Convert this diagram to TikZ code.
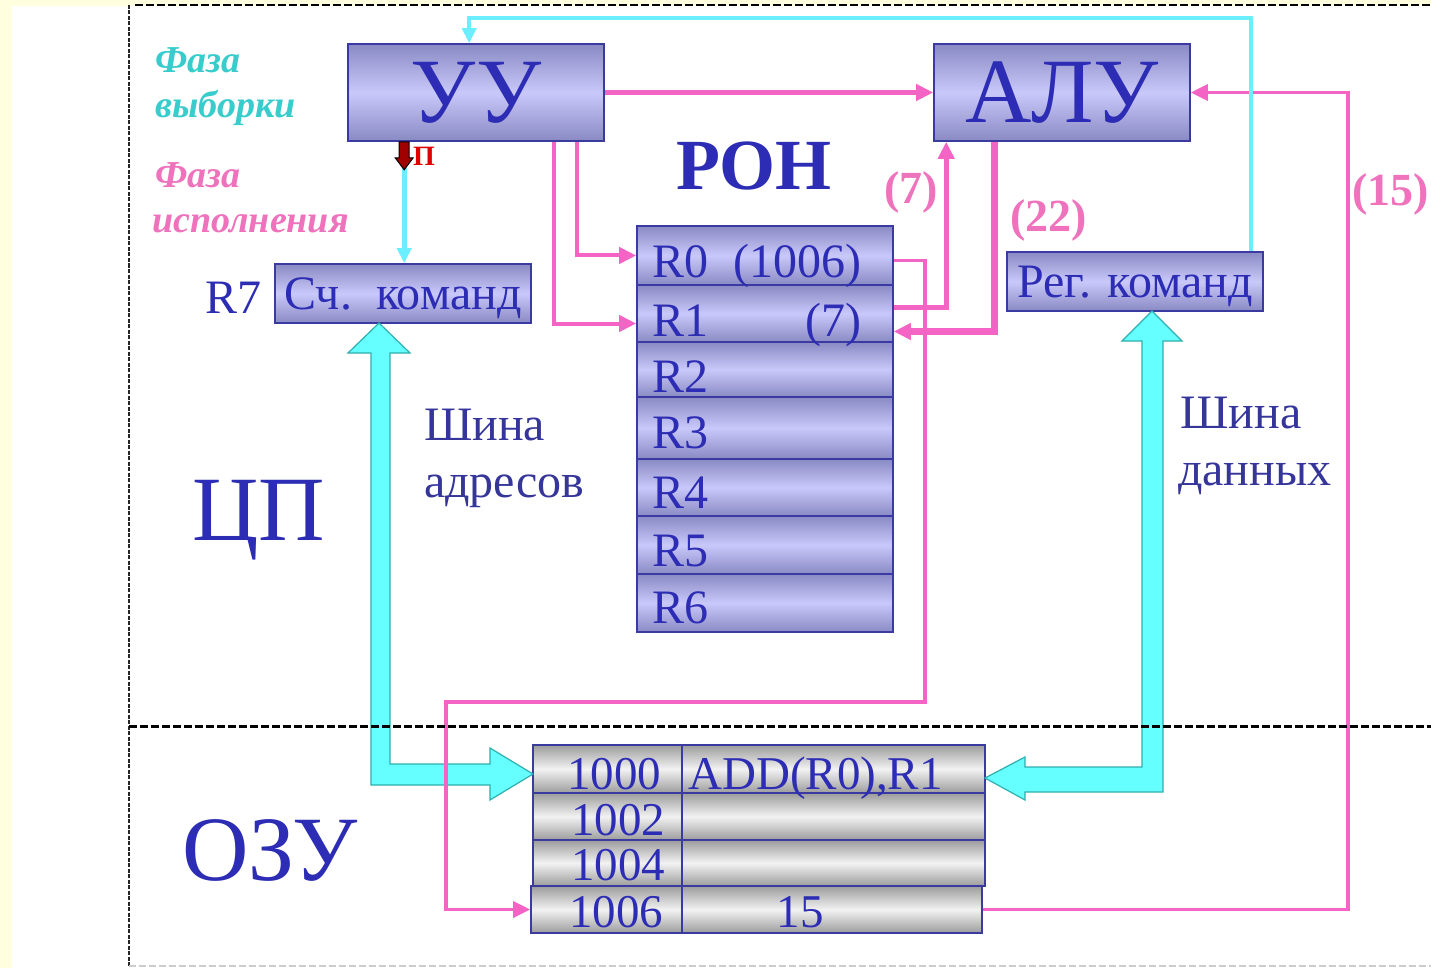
\documentclass[tikz,border=0pt]{standalone}
\usepackage{fontspec}
\setmainfont{Liberation Serif}
\usetikzlibrary{calc,arrows.meta}
\definecolor{bgy}{HTML}{FFFFE0}
\definecolor{boxedge}{HTML}{8A8AC4}
\definecolor{boxmid}{HTML}{C8C8FA}
\definecolor{boxline}{HTML}{3A3AA0}
\definecolor{txtblue}{HTML}{2C2CB4}
\definecolor{busnavy}{HTML}{35359A}
\definecolor{grayedge}{HTML}{9C9C9C}
\definecolor{graymid}{HTML}{F2F2F2}
\definecolor{pinkline}{HTML}{F364C4}
\definecolor{pinktext}{HTML}{EE72BC}
\definecolor{cyanline}{HTML}{6BEFFF}
\definecolor{cyantext}{HTML}{38CCCC}
\definecolor{busfill}{HTML}{66FFFF}
\definecolor{busedge}{HTML}{2FAFAF}
\definecolor{darkred}{HTML}{A00000}
\definecolor{pulsered}{HTML}{E00000}
\newcommand{\myfs}[1]{\fontsize{#1}{#1}\selectfont}
\begin{document}
\begin{tikzpicture}[x=1pt,y=-1pt,
  box/.style={draw=boxline,line width=1.6pt,top color=boxedge,bottom color=boxedge,middle color=boxmid,inner sep=0pt,text=txtblue,text depth=0pt},
  memrow/.style={draw=boxline,line width=1.6pt,top color=grayedge,bottom color=grayedge,middle color=graymid,inner sep=0pt},
  lbl/.style={inner sep=0pt,anchor=base west,text=txtblue},
  lble/.style={inner sep=0pt,anchor=base east,text=txtblue},
  lblc/.style={inner sep=0pt,anchor=base,text=txtblue},
  pk/.style={draw=pinkline,line width=5pt,-{Triangle[length=17pt,width=16pt]}},
  cy/.style={draw=cyanline,line width=4pt,-{Triangle[length=15pt,width=14pt]}},
  bus/.style={fill=busfill,draw=busedge,line width=1.2pt},
  num/.style={inner sep=0pt,anchor=base west,text=pinktext,font=\bfseries\myfs{46}},
  dashframe/.style={black,line width=2.8pt,dash pattern=on 8pt off 3pt}
]
\useasboundingbox (0,0) rectangle (1431,968);
\fill[bgy] (0,0) rectangle (1431,968);
\fill[white] (12,6) rectangle (1431,968);

% boxes
\node[box,minimum width=256pt,minimum height=97pt,font=\myfs{92}] (uu) at (476,92.5) {УУ};
\node[box,minimum width=256pt,minimum height=97pt,font=\myfs{92}] (alu) at (1062,92.5) {АЛУ};
\node[box,minimum width=256pt,minimum height=59pt,font=\myfs{48}] (sch) at (403,293.5) {Сч.\ \ команд};
\node[box,minimum width=256pt,minimum height=59pt,font=\myfs{48}] (reg) at (1135,281.5) {Рег. команд};

% registers
\foreach \n/\c/\h in {0/255.5/59,1/313.5/57,2/369.5/55,3/428/62,4/487.5/57,5/545/58,6/603/58}
  \node[box,minimum width=256pt,minimum height=\h pt] (r\n) at (765,\c) {};
\foreach \n/\b in {0/277,1/336,2/392,3/448,4/508,5/566,6/623}
  \node[lbl,font=\myfs{48}] (rl\n) at (652,\b) {R\n};
\node[lble,font=\myfs{48}] (r0v) at (862,277) {(1006)};
\node[lble,font=\myfs{48}] (r1v) at (862,336) {(7)};

% memory
\node[memrow,minimum width=452pt,minimum height=48pt] (m0) at (759,769) {};
\node[memrow,minimum width=452pt,minimum height=47pt] (m1) at (759,816.5) {};
\node[memrow,minimum width=452pt,minimum height=46pt] (m2) at (759,863) {};
\node[memrow,minimum width=451pt,minimum height=47pt] (m3) at (756.5,909.5) {};
\foreach \m/\dx in {m0/150,m1/150,m2/150,m3/152}
  \draw[boxline,line width=1.6pt] ($(\m.north west)+(\dx,0)$) -- ($(\m.south west)+(\dx,0)$);
\node[lblc,font=\myfs{47}] (a0) at (614,789) {1000};
\node[lblc,font=\myfs{47}] (a1) at (618,835) {1002};
\node[lblc,font=\myfs{47}] (a2) at (618,880) {1004};
\node[lblc,font=\myfs{47}] (a3) at (616,927) {1006};
\node[lbl,font=\myfs{47}] (v0) at (688,789) {ADD(R0),R1};
\node[lblc,font=\myfs{47}] (v3) at (800,927) {15};

% labels
\node[lbl,font=\myfs{92}] (cp) at (192,540) {ЦП};
\node[lbl,font=\myfs{92}] (ozu) at (182,880) {ОЗУ};
\node[lbl,text=busnavy,font=\myfs{48}] (sa1) at (424,440) {Шина};
\node[lbl,text=busnavy,font=\myfs{48}] (sa2) at (424,497) {адресов};
\node[lbl,text=busnavy,font=\myfs{48}] (sd1) at (1180,428) {Шина};
\node[lbl,text=busnavy,font=\myfs{48}] (sd2) at (1178,485) {данных};
\node[lbl,font=\bfseries\myfs{72}] (ron) at (676,190) {РОН};
\node[lbl,font=\myfs{48}] (r7) at (205,313) {R7};
\node[num] (n7) at (884,204) {(7)};
\node[num] (n22) at (1010,232) {(22)};
\node[num] (n15) at (1352,206) {(15)};
\node[lbl,text=cyantext,font=\bfseries\itshape\myfs{38}] (f1) at (155,73) {Фаза};
\node[lbl,text=cyantext,font=\bfseries\itshape\myfs{38}] (f2) at (155,118) {выборки};
\node[lbl,text=pinktext,font=\bfseries\itshape\myfs{38}] (f3) at (155,188) {Фаза};
\node[lbl,text=pinktext,font=\bfseries\itshape\myfs{38}] (f4) at (152,233) {исполнения};

% buses
\draw[bus] (371,353) -- (348,353) -- (379,323) -- (410,353) -- (390,353) -- (390,764) -- (490,764) -- (490,748) -- (533,774) -- (490,800) -- (490,785) -- (371,785) -- cycle;
\draw[bus] (1142,341) -- (1122,341) -- (1152,311) -- (1182,341) -- (1163,341) -- (1163,792) -- (1025,792) -- (1025,800) -- (985,778) -- (1025,757) -- (1025,767) -- (1142,767) -- cycle;

% pink connectors
\draw[pk] (uu.east) -- (alu.west);
\draw[pk,line width=4pt] ($(uu.south west)+(230,0)$) |- (r0.west);
\draw[pk,line width=4pt] ($(uu.south west)+(207,0)$) |- ($(r1.west)+(0,10)$);
\coordinate (b1) at (925,702);
\coordinate (b2) at (446,702);
\draw[pk,line width=3.5pt] ($(r0.east)+(0,5)$) -| (b1) -- (b2) |- (m3.west);
\draw[pk] ($(r1.east)+(0,-6)$) -| ($(alu.south west)+(13,0)$);
\draw[pk,line width=7pt] ($(alu.south west)+(61,0)$) |- ($(r1.east)+(0,18)$);
\coordinate (c1) at (1348,500);
\draw[pk,line width=3.5pt] (m3.east) -| (c1) |- (alu.east);

% cyan connectors
\draw[cy] ($(reg.north east)+(-13,0)$) |- ($(uu.north west)+(122,-25)$) -- ($(uu.north west)+(122,0)$);
\coordinate (p0) at ($(uu.south west)+(57,0)$);
\draw[cy,line width=5pt] ($(p0)+(0,26)$) -- ($(sch.north west)+(130,0)$);
\draw[fill=darkred,draw=black,line width=1pt] ($(p0)+(-5,0)$) -- ($(p0)+(5,0)$) -- ($(p0)+(5,16)$) -- ($(p0)+(9,16)$) -- ($(p0)+(0,28)$) -- ($(p0)+(-9,16)$) -- ($(p0)+(-5,16)$) -- cycle;
\node[lbl,text=pulsered,font=\bfseries\myfs{28}] (pls) at (413,166) {П};

% frame lines
\draw[dashframe] (135,5) -- (1431,5);
\draw[black!85,line width=2.8pt,dash pattern=on 4pt off 1.5pt] (129,5) -- (129,968);
\draw[dashframe,line width=3pt] (129,726) -- (1431,726);
\draw[gray!40,line width=1.8pt,dash pattern=on 7pt off 3pt] (129,966) -- (1431,966);
\end{tikzpicture}
\end{document}
